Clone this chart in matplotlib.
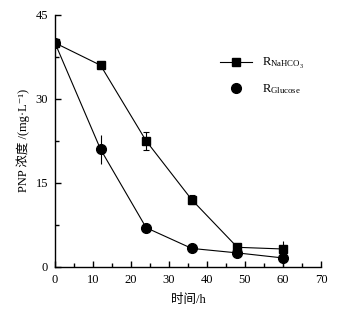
import matplotlib
matplotlib.use("Agg")
import matplotlib.pyplot as plt
from matplotlib.lines import Line2D

plt.rcParams['font.family'] = ['Liberation Serif', 'Noto Sans CJK SC', 'DejaVu Serif']
plt.rcParams['mathtext.fontset'] = 'custom'
plt.rcParams['mathtext.rm'] = 'Liberation Serif'
plt.rcParams['mathtext.it'] = 'Liberation Serif:italic'
plt.rcParams['font.size'] = 9

time_h = [0, 12, 24, 36, 48, 60]
nahco3 = [40.0, 36.0, 22.5, 12.0, 3.5, 3.2]
nahco3_err = [0.4, 0.4, 1.6, 0.8, 0.6, 0.5]
glucose = [40.0, 21.0, 7.0, 3.3, 2.5, 1.6]
glucose_err = [0.4, 2.6, 0.3, 0.4, 0.3, 3.0]

fig = plt.figure(figsize=(3.5, 3.1), dpi=100)
ax = fig.add_axes([0.157, 0.139, 0.76, 0.813])

ax.errorbar(time_h, nahco3, yerr=nahco3_err, color='black', marker='s', ms=6,
            lw=0.8, elinewidth=0.8, capsize=2, capthick=0.8)
ax.errorbar(time_h, glucose, yerr=glucose_err, color='black', marker='o', ms=7,
            lw=0.8, elinewidth=0.8, capsize=0)

ax.set_xlim(0, 70)
ax.set_ylim(0, 45)
ax.set_xticks(range(0, 71, 10))
ax.set_xticks(range(5, 70, 10), minor=True)
ax.set_yticks([0, 15, 30, 45])
ax.set_yticks([7.5, 22.5, 37.5], minor=True)
ax.tick_params(which='both', direction='in', width=1, labelsize=9, pad=5)
ax.tick_params(which='major', length=4)
ax.tick_params(which='minor', length=3)
ax.spines['top'].set_visible(False)
ax.spines['right'].set_visible(False)
for s in ('left', 'bottom'):
    ax.spines[s].set_linewidth(1)

ax.set_xlabel('时间/h', fontsize=9, labelpad=6)
ax.set_ylabel('PNP 浓度 /(mg·L⁻¹)', fontsize=9, labelpad=4)

handles = [Line2D([], [], color='black', marker='s', ms=6, lw=0.8),
           Line2D([], [], color='black', marker='o', ms=7, lw=0)]
labels = [r'R$_{\mathrm{NaHCO_3}}$', r'R$_{\mathrm{Glucose}}$']
ax.legend(handles, labels, loc='upper left', bbox_to_anchor=(0.58, 0.88),
          frameon=False, fontsize=9, handlelength=2.5, labelspacing=0.9)

fig.savefig('out.png', dpi=100)
